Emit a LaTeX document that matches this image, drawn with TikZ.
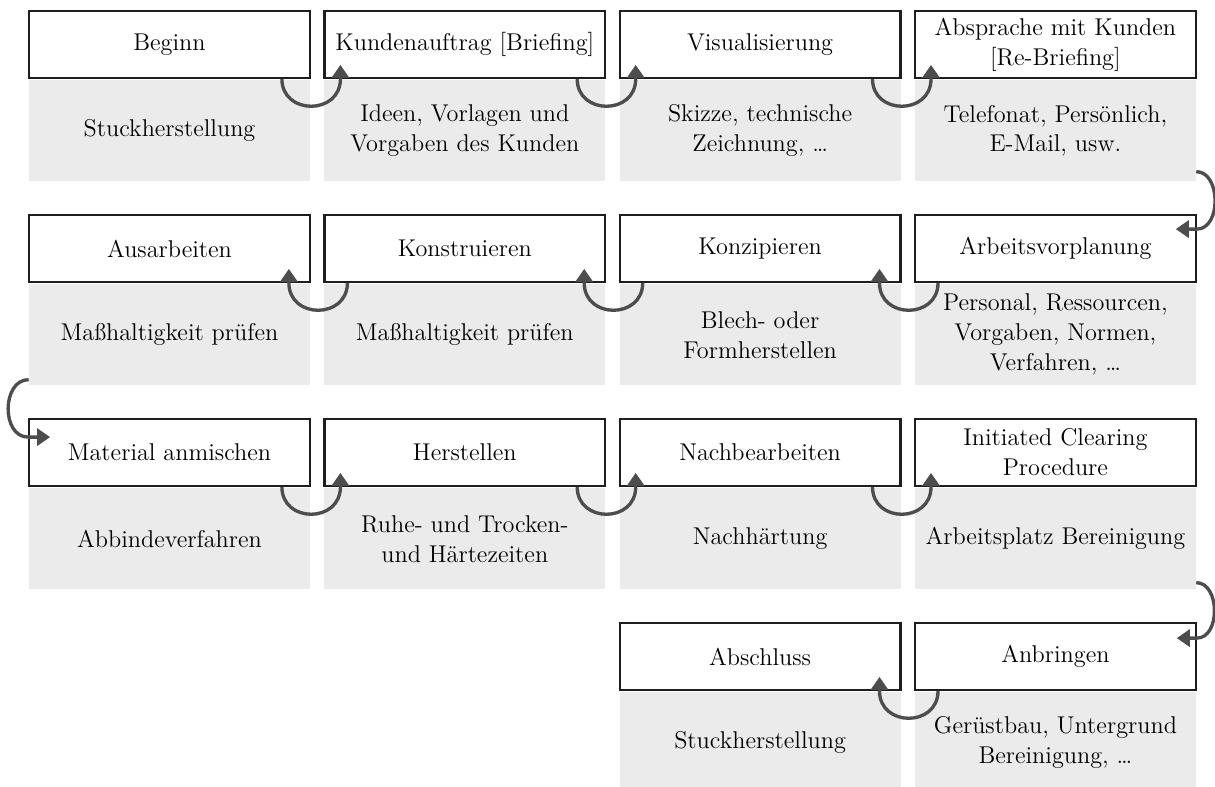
\documentclass[tikz,border=0pt]{standalone}
\usepackage{tikz}
\usetikzlibrary{positioning,arrows.meta}
\usepackage{xcolor}

\definecolor{infogray}{HTML}{EBEBEB}
\definecolor{arrowgray}{HTML}{4D4D4D}
\definecolor{framegray}{HTML}{1E1E1E}

\begin{document}
\begin{tikzpicture}[
    font=\fontsize{13.8}{17}\selectfont,
    titel/.style={draw=framegray, line width=1.3pt, fill=white, minimum width=5.61cm, minimum height=1.33cm, inner sep=0pt, align=center},
    info/.style={fill=infogray, minimum width=5.62cm, minimum height=2.02cm, inner sep=0pt, align=center},
    flow/.style={arrowgray, line width=1.9pt, -{Triangle[width=0.34cm,length=0.26cm]}},
    ]
                % Page frame
                \clip (0,0) rectangle (24.3,-15.74);
                \useasboundingbox (0,0) rectangle (24.3,-15.74);

                % Row 1
                \node[titel] (beginn) at (3.39,-0.89) {Beginn};
                \node[titel] (auftrag) at (9.296,-0.89) {Kundenauftrag [Briefing]};
                \node[titel] (visual) at (15.202,-0.89) {Visualisierung};
                \node[titel] (absprache) at (21.108,-0.89) {Absprache mit Kunden\\{}[Re-Briefing]};
                \node[info, below=0.6pt of beginn] (beginn-txt) {Stuckherstellung};
                \node[info, below=0.6pt of auftrag] (auftrag-txt) {Ideen, Vorlagen und\\Vorgaben des Kunden};
                \node[info, below=0.6pt of visual] (visual-txt) {Skizze, technische\\Zeichnung, \dots};
                \node[info, below=0.6pt of absprache] (absprache-txt) {Telefonat, Persönlich,\\E-Mail, usw.};

                % Row 2
                \node[titel] (ausarb) at (3.39,-4.97) {Ausarbeiten};
                \node[titel] (konstr) at (9.296,-4.97) {Konstruieren};
                \node[titel] (konzip) at (15.202,-4.97) {Konzipieren};
                \node[titel] (planung) at (21.108,-4.97) {Arbeitsvorplanung};
                \node[info, below=0.6pt of ausarb] (ausarb-txt) {Maßhaltigkeit prüfen};
                \node[info, below=0.6pt of konstr] (konstr-txt) {Maßhaltigkeit prüfen};
                \node[info, below=0.6pt of konzip] (konzip-txt) {Blech- oder\\Formherstellen};
                \node[info, below=0.6pt of planung] (planung-txt) {Personal, Ressourcen,\\Vorgaben, Normen,\\Verfahren, \dots};

                % Row 3
                \node[titel] (material) at (3.39,-9.05) {Material anmischen};
                \node[titel] (herst) at (9.296,-9.05) {Herstellen};
                \node[titel] (nachb) at (15.202,-9.05) {Nachbearbeiten};
                \node[titel] (clearing) at (21.108,-9.05) {Initiated Clearing\\Procedure};
                \node[info, below=0.6pt of material] (material-txt) {Abbindeverfahren};
                \node[info, below=0.6pt of herst] (herst-txt) {Ruhe- und Trocken-\\und Härtezeiten};
                \node[info, below=0.6pt of nachb] (nachb-txt) {Nachhärtung};
                \node[info, below=0.6pt of clearing] (clearing-txt) {Arbeitsplatz Bereinigung};

                % Row 4
                \node[titel] (abschluss) at (15.202,-13.13) {Abschluss};
                \node[titel] (anbringen) at (21.108,-13.13) {Anbringen};
                \node[info, below=0.6pt of abschluss] (abschluss-txt) {Stuckherstellung};
                \node[info, below=0.6pt of anbringen] (anbringen-txt) {Gerüstbau, Untergrund\\Bereinigung, \dots};

                % Arrows left to right
                \draw[flow] ([xshift=-0.58cm]beginn.south east) to[out=-90, in=-90, looseness=1.6] ([xshift=0.34cm]auftrag.south west) -- ++(0,0.28);
                \draw[flow] ([xshift=-0.58cm]auftrag.south east) to[out=-90, in=-90, looseness=1.6] ([xshift=0.34cm]visual.south west) -- ++(0,0.28);
                \draw[flow] ([xshift=-0.58cm]visual.south east) to[out=-90, in=-90, looseness=1.6] ([xshift=0.34cm]absprache.south west) -- ++(0,0.28);
                \draw[flow] ([xshift=-0.58cm]material.south east) to[out=-90, in=-90, looseness=1.6] ([xshift=0.34cm]herst.south west) -- ++(0,0.28);
                \draw[flow] ([xshift=-0.58cm]herst.south east) to[out=-90, in=-90, looseness=1.6] ([xshift=0.34cm]nachb.south west) -- ++(0,0.28);
                \draw[flow] ([xshift=-0.58cm]nachb.south east) to[out=-90, in=-90, looseness=1.6] ([xshift=0.34cm]clearing.south west) -- ++(0,0.28);

                % Arrows right to left
                \draw[flow] ([xshift=0.48cm]planung.south west) to[out=-90, in=-90, looseness=1.6] ([xshift=-0.44cm]konzip.south east) -- ++(0,0.28);
                \draw[flow] ([xshift=0.48cm]konzip.south west) to[out=-90, in=-90, looseness=1.6] ([xshift=-0.44cm]konstr.south east) -- ++(0,0.28);
                \draw[flow] ([xshift=0.48cm]konstr.south west) to[out=-90, in=-90, looseness=1.6] ([xshift=-0.44cm]ausarb.south east) -- ++(0,0.28);
                \draw[flow] ([xshift=0.48cm]anbringen.south west) to[out=-90, in=-90, looseness=1.6] ([xshift=-0.44cm]abschluss.south east) -- ++(0,0.28);

                % Row changes
                \draw[flow] ([yshift=0.2cm]absprache-txt.south east) to[out=0, in=0, looseness=1.1] ([yshift=-0.3cm]planung.north east) -- ++(-0.42,0);
                \draw[flow] ([yshift=0.12cm]ausarb-txt.south west) to[out=180, in=180, looseness=1.2] ([yshift=-0.38cm]material.north west) -- ++(0.44,0);
                \draw[flow] ([yshift=0.14cm]clearing-txt.south east) to[out=0, in=0, looseness=1.1] ([yshift=-0.32cm]anbringen.north east) -- ++(-0.4,0);
\end{tikzpicture}
\end{document}
